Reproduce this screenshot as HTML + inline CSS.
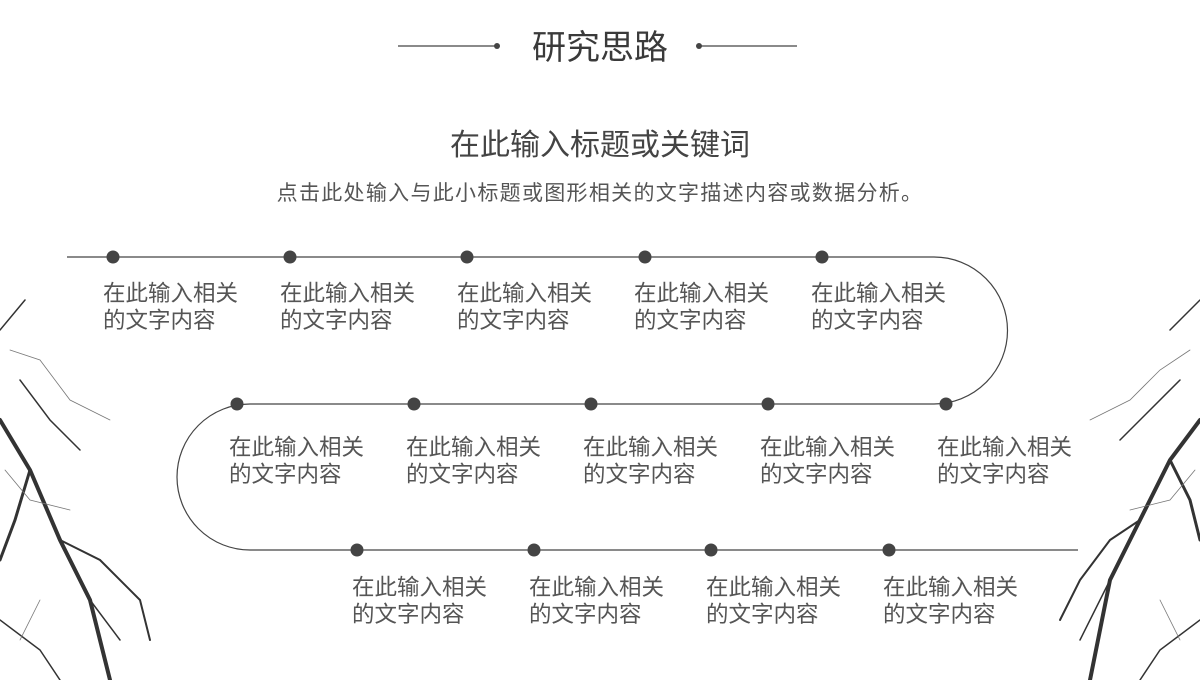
<!DOCTYPE html>
<html><head><meta charset="utf-8"><style>
body{margin:0;width:1200px;height:680px;background:#fff;overflow:hidden;position:relative;font-family:"Liberation Sans","Noto Sans CJK SC",sans-serif;color:#444}
.t{position:absolute;font-size:22.5px;line-height:27px;color:#555;white-space:nowrap}
</style></head><body>
<svg width="1200" height="680" style="position:absolute;left:0;top:0">
<g stroke="#444" stroke-width="1.2" fill="none">
<line x1="398" y1="46" x2="496" y2="46"/><line x1="700" y1="46" x2="797" y2="46"/>
<path d="M67 257 H934 A73.5 73.5 0 0 1 934 404 H250 A73 73 0 0 0 250 550 H1078"/>
</g>
<g fill="#444">
<circle cx="497" cy="46" r="3"/><circle cx="699" cy="46" r="3"/>
<circle cx="113" cy="257" r="6.5"/><circle cx="290" cy="257" r="6.5"/><circle cx="467" cy="257" r="6.5"/><circle cx="645" cy="257" r="6.5"/><circle cx="822" cy="257" r="6.5"/>
<circle cx="237" cy="404" r="6.5"/><circle cx="414" cy="404" r="6.5"/><circle cx="591" cy="404" r="6.5"/><circle cx="768" cy="404" r="6.5"/><circle cx="946" cy="404" r="6.5"/>
<circle cx="357" cy="550" r="6.5"/><circle cx="534" cy="550" r="6.5"/><circle cx="711" cy="550" r="6.5"/><circle cx="889" cy="550" r="6.5"/>
</g>
<g stroke="#333" fill="none" stroke-linecap="round">
<path d="M0 420 L30 470 L60 540 L90 600 L110 680" stroke-width="4"/>
<path d="M30 470 L15 520 L0 560" stroke-width="3"/>
<path d="M60 540 L100 560 L140 600 L150 640" stroke-width="2"/>
<path d="M0 330 L25 300 M20 380 L50 420 L80 450 M0 620 L40 650 L60 680 M90 600 L120 640" stroke-width="1.5"/>
<path d="M10 350 L40 360 L70 400 L110 420 M5 470 L30 500 L70 510 M40 600 L20 640" stroke-width="0.8" stroke="#777"/>
<path d="M1200 420 L1170 460 L1140 520 L1110 580 L1090 680" stroke-width="4"/>
<path d="M1170 460 L1190 500 L1200 540" stroke-width="3"/>
<path d="M1140 520 L1110 540 L1080 580 L1060 620" stroke-width="2"/>
<path d="M1200 300 L1170 330 M1180 380 L1150 410 L1120 440 M1200 620 L1160 650 L1140 680 M1110 580 L1080 640" stroke-width="1.5"/>
<path d="M1190 350 L1160 370 L1130 400 L1090 420 M1195 470 L1170 500 L1130 510 M1160 600 L1180 640" stroke-width="0.8" stroke="#777"/>
</g>
</svg>
<div style="position:absolute;left:0;width:1200px;top:27px;text-align:center;font-size:34px;line-height:42px;color:#3a3a3a">研究思路</div>
<div style="position:absolute;left:0;width:1200px;top:127px;text-align:center;font-size:30px;line-height:38px;color:#444">在此输入标题或关键词</div>
<div style="position:absolute;left:0;width:1200px;top:180px;text-align:center;font-size:21px;letter-spacing:1.3px;line-height:28px;color:#555">点击此处输入与此小标题或图形相关的文字描述内容或数据分析。</div>
<div class="t" style="left:103px;top:280px">在此输入相关<br>的文字内容</div>
<div class="t" style="left:280px;top:280px">在此输入相关<br>的文字内容</div>
<div class="t" style="left:457px;top:280px">在此输入相关<br>的文字内容</div>
<div class="t" style="left:634px;top:280px">在此输入相关<br>的文字内容</div>
<div class="t" style="left:811px;top:280px">在此输入相关<br>的文字内容</div>
<div class="t" style="left:229px;top:434px">在此输入相关<br>的文字内容</div>
<div class="t" style="left:406px;top:434px">在此输入相关<br>的文字内容</div>
<div class="t" style="left:583px;top:434px">在此输入相关<br>的文字内容</div>
<div class="t" style="left:760px;top:434px">在此输入相关<br>的文字内容</div>
<div class="t" style="left:937px;top:434px">在此输入相关<br>的文字内容</div>
<div class="t" style="left:352px;top:574px">在此输入相关<br>的文字内容</div>
<div class="t" style="left:529px;top:574px">在此输入相关<br>的文字内容</div>
<div class="t" style="left:706px;top:574px">在此输入相关<br>的文字内容</div>
<div class="t" style="left:883px;top:574px">在此输入相关<br>的文字内容</div>
</body></html>
